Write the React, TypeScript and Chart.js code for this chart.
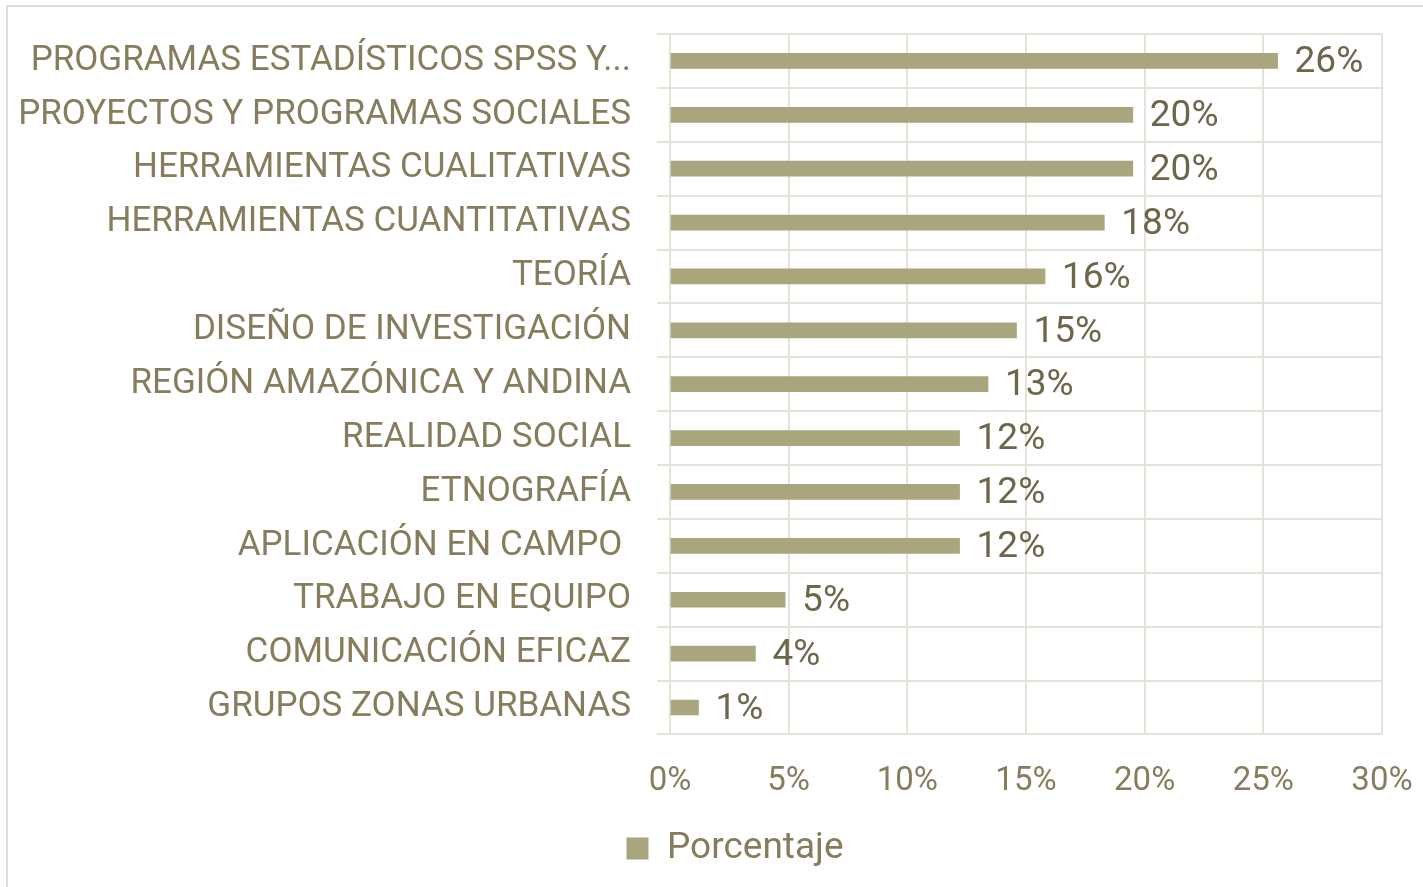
import React, { useEffect, useRef } from "react";
import { Chart, registerables } from "chart.js";

Chart.register(...registerables);

const categories: string[] = [
  "PROGRAMAS ESTADÍSTICOS SPSS Y...",
  "PROYECTOS Y PROGRAMAS SOCIALES",
  "HERRAMIENTAS CUALITATIVAS",
  "HERRAMIENTAS CUANTITATIVAS",
  "TEORÍA",
  "DISEÑO DE INVESTIGACIÓN",
  "REGIÓN AMAZÓNICA Y ANDINA",
  "REALIDAD SOCIAL",
  "ETNOGRAFÍA",
  "APLICACIÓN EN CAMPO ",
  "TRABAJO EN EQUIPO",
  "COMUNICACIÓN EFICAZ",
  "GRUPOS ZONAS URBANAS",
];

const porcentaje: number[] = [25.6, 19.5, 19.5, 18.3, 15.8, 14.6, 13.4, 12.2, 12.2, 12.2, 4.85, 3.6, 1.2];

const seriesLabel = "Porcentaje";
const xMax = 30;
const xStep = 5;

const FONT = "Roboto, 'Noto Sans', sans-serif";
const BAR = "#A9A57C";
const GRID = "#E6E2D9";
const LABEL = "#877C5C";
const VALUE = "#6E664A";

const dataLabels = {
  id: "dataLabels",
  afterDatasetsDraw(chart: any) {
    const ctx = chart.ctx;
    const meta = chart.getDatasetMeta(0);
    const values = chart.data.datasets[0].data as number[];
    ctx.save();
    ctx.font = `37px ${FONT}`;
    ctx.fillStyle = VALUE;
    ctx.textAlign = "left";
    ctx.textBaseline = "middle";
    meta.data.forEach((bar: any, i: number) => {
      ctx.fillText(`${Math.round(values[i])}%`, bar.x + 17, bar.y + 2);
    });
    ctx.restore();
  },
};

const legendShift = {
  id: "legendShift",
  afterLayout(chart: any) {
    const lg = chart.legend;
    if (lg) {
      lg.left += 44;
      lg.right += 44;
    }
  },
};

export default function App() {
  const ref = useRef<HTMLCanvasElement | null>(null);

  useEffect(() => {
    if (!ref.current) return;
    const chart = new Chart(ref.current, {
      type: "bar",
      data: {
        labels: categories,
        datasets: [
          {
            label: seriesLabel,
            data: porcentaje,
            backgroundColor: BAR,
            borderWidth: 0,
            barThickness: 15,
          },
        ],
      },
      plugins: [dataLabels, legendShift],
      options: {
        indexAxis: "y",
        animation: false,
        responsive: false,
        maintainAspectRatio: false,
        layout: { padding: { left: 0, right: 41, top: 34, bottom: 10 } },
        scales: {
          x: {
            min: 0,
            max: xMax,
            grid: { color: GRID, lineWidth: 2, drawTicks: false },
            border: { display: false },
            ticks: {
              stepSize: xStep,
              padding: 28,
              color: LABEL,
              font: { family: FONT, size: 33 },
              callback: (v: any) => `${v}%`,
            },
            afterFit: (scale: any) => {
              scale.paddingLeft = 0;
              scale.paddingRight = 0;
            },
          },
          y: {
            grid: { color: GRID, lineWidth: 2, tickLength: 13, offset: true },
            border: { color: GRID, width: 2 },
            ticks: {
              padding: 26,
              color: LABEL,
              font: { family: FONT, size: 35 },
              autoSkip: false,
            },
            afterFit: (scale: any) => {
              scale.width = 670;
              scale.paddingTop = 0;
              scale.paddingBottom = 0;
            },
          },
        },
        plugins: {
          legend: {
            position: "bottom",
            labels: {
              color: LABEL,
              font: { family: FONT, size: 37 },
              boxWidth: 22,
              boxHeight: 22,
              padding: 0,
            },
          },
          tooltip: { enabled: false },
        },
      },
    });
    return () => chart.destroy();
  }, []);

  return (
    <div style={{ position: "fixed", left: 0, top: 0, width: 1423, height: 887, background: "#fff", overflow: "hidden" }}>
      <div
        style={{
          position: "absolute",
          left: 6,
          top: 5,
          width: 1430,
          height: 900,
          borderTop: "2px solid #DDDCDA",
          borderLeft: "2px solid #DDDCDA",
        }}
      />
      <canvas ref={ref} width={1423} height={887} style={{ position: "absolute", left: 0, top: 0 }} />
    </div>
  );
}
